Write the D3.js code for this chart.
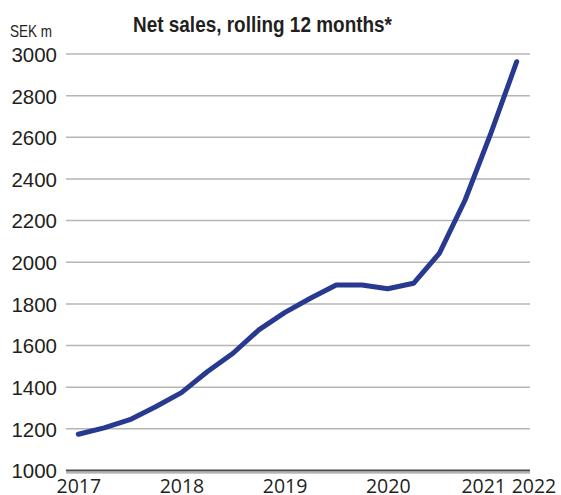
<!DOCTYPE html>
<html>
<head>
<meta charset="utf-8">
<script src="https://cdn.jsdelivr.net/npm/d3@7"></script>
<style>
  html, body { margin: 0; padding: 0; background: #fff; }
  svg { display: block; }
</style>
</head>
<body>
<svg id="chart" width="561" height="495"></svg>
<script>
// Quarterly net sales, rolling 12 months (SEK m), Q1 2017 .. Q2 2021
const quarters = ["Q1 2017","Q2 2017","Q3 2017","Q4 2017",
                  "Q1 2018","Q2 2018","Q3 2018","Q4 2018",
                  "Q1 2019","Q2 2019","Q3 2019","Q4 2019",
                  "Q1 2020","Q2 2020","Q3 2020","Q4 2020",
                  "Q1 2021","Q2 2021"];
const netSales = [1174, 1205, 1244, 1306, 1374, 1474, 1563, 1675,
                  1758, 1827, 1891, 1891, 1873, 1899, 2043, 2299,
                  2620, 2963];

// Year labels along the time axis (position in quarter index)
const yearLabels = ["2017", "2018", "2019", "2020", "2021", "2022"];
const yearPos    = [0, 4, 8, 12, 15.7, 17.65];

const yTicks = [1000, 1200, 1400, 1600, 1800, 2000, 2200, 2400, 2600, 2800, 3000];

const title = "Net sales, rolling 12 months*";
const unitLabel = "SEK m";

const svg = d3.select("#chart");

const x = d3.scaleLinear().domain([0, quarters.length - 1]).range([78.3, 516.7]);
const y = d3.scaleLinear().domain([1000, 3000]).range([470.5, 54]);
const gridLeft = 66, gridRight = 530;

// Horizontal grid lines
svg.append("g")
  .selectAll("line")
  .data(yTicks.filter(d => d > 1000))
  .join("line")
  .attr("x1", gridLeft).attr("x2", gridRight)
  .attr("y1", d => y(d)).attr("y2", d => y(d))
  .attr("stroke", "#b5b5b5")
  .attr("stroke-width", 1.5);

// Baseline (double rule)
svg.append("line")
  .attr("x1", gridLeft).attr("x2", gridRight)
  .attr("y1", y(1000)).attr("y2", y(1000))
  .attr("stroke", "#4a4a4a").attr("stroke-width", 2);
svg.append("line")
  .attr("x1", gridLeft).attr("x2", gridRight)
  .attr("y1", y(1000) + 2.3).attr("y2", y(1000) + 2.3)
  .attr("stroke", "#9a9a9a").attr("stroke-width", 1.2);

// Y axis labels
const yAxis = d3.axisLeft(y).tickValues(yTicks).tickSize(0).tickPadding(0)
  .tickFormat(d3.format("d"));
const gy = svg.append("g").attr("transform", "translate(57,0)").call(yAxis);
gy.select(".domain").remove();
gy.selectAll("text")
  .attr("font-family", "'Liberation Sans', Arial, sans-serif")
  .attr("font-size", 20.5)
  .attr("fill", "#231f20")
  .attr("dy", "0.36em");

// X axis year labels
const xAxis = d3.axisBottom(x).tickValues(yearPos).tickSize(0).tickPadding(0)
  .tickFormat((d, i) => yearLabels[i]);
const gx = svg.append("g").attr("transform", "translate(0,493)").call(xAxis);
gx.select(".domain").remove();
gx.selectAll("text")
  .attr("font-family", "'Open Sans', 'Noto Sans', sans-serif")
  .attr("font-size", 19.5)
  .attr("fill", "#231f20")
  .attr("y", 0)
  .attr("dy", 0);

// Sales line
const line = d3.line()
  .x((d, i) => x(i))
  .y(d => y(d));
svg.append("path")
  .datum(netSales)
  .attr("d", line)
  .attr("fill", "none")
  .attr("stroke", "#283a8f")
  .attr("stroke-width", 5)
  .attr("stroke-linejoin", "round")
  .attr("stroke-linecap", "round");

// Title and unit
svg.append("text")
  .attr("x", 133).attr("y", 31.5)
  .attr("font-family", "'Liberation Sans Narrow', 'Liberation Sans', Arial, sans-serif")
  .attr("font-weight", "bold")
  .attr("font-size", 22.5)
  .attr("textLength", 259)
  .attr("lengthAdjust", "spacingAndGlyphs")
  .attr("fill", "#231f20")
  .text(title);

svg.append("text")
  .attr("x", 10).attr("y", 37)
  .attr("font-family", "'Liberation Sans Narrow', 'Liberation Sans', Arial, sans-serif")
  .attr("font-size", 16.5)
  .attr("textLength", 42)
  .attr("lengthAdjust", "spacingAndGlyphs")
  .attr("fill", "#231f20")
  .text(unitLabel);
</script>
</body>
</html>
